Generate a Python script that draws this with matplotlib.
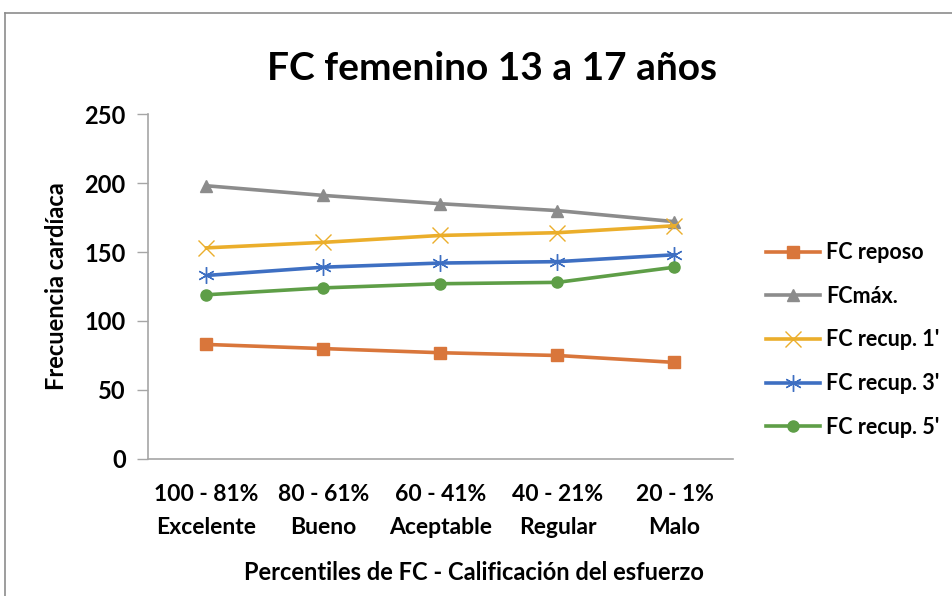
import matplotlib.pyplot as plt
from matplotlib.lines import Line2D

# ---- data ----
categorias = ["100 - 81%\nExcelente", "80 - 61%\nBueno", "60 - 41%\nAceptable",
              "40 - 21%\nRegular", "20 - 1%\nMalo"]
fc_reposo = [83, 80, 77, 75, 70]
fc_max = [198, 191, 185, 180, 172]
fc_recup1 = [153, 157, 162, 164, 169]
fc_recup3 = [133, 139, 142, 143, 148]
fc_recup5 = [119, 124, 127, 128, 139]
y_ticks = [0, 50, 100, 150, 200, 250]

series = [
    ("FC reposo", fc_reposo, "#D9763B", "s", 8),
    ("FCmáx.", fc_max, "#8C8C8C", "^", 9),
    ("FC recup. 1'", fc_recup1, "#EBAE2B", "x", 11),
    ("FC recup. 3'", fc_recup3, "#3E6FC2", (6, 2, 0), 12),
    ("FC recup. 5'", fc_recup5, "#5E9E47", "o", 8),
]

plt.rcParams['font.family'] = ['Lato', 'DejaVu Sans']

fig = plt.figure(figsize=(9.53, 5.96), dpi=100)
ax = fig.add_axes([0.1553, 0.2299, 0.6138, 0.5788])

x = [i + 0.5 for i in range(len(categorias))]
for name, vals, col, mk, ms in series:
    ax.plot(x, vals, color=col, lw=2.6, marker=mk, markersize=ms,
            markeredgewidth=1.0, markerfacecolor=col, markeredgecolor=col,
            label=name)

ax.set_xlim(0, 5)
ax.set_ylim(0, 250)
ax.set_yticks(y_ticks)
ax.set_yticklabels([str(v) for v in y_ticks], fontsize=17, fontweight='bold')
ax.set_xticks(x)
ax.set_xticklabels(categorias, fontsize=16.5, fontweight='bold', linespacing=1.7)
ax.tick_params(axis='x', length=0, pad=18)
ax.tick_params(axis='y', length=8, width=1, color='#A6A6A6', pad=8)

for s in ['top', 'right']:
    ax.spines[s].set_visible(False)
for s in ['left', 'bottom']:
    ax.spines[s].set_color('#A6A6A6')
    ax.spines[s].set_linewidth(1.2)

ax.set_ylabel("Frecuencia cardíaca", fontsize=17, fontweight='bold', labelpad=12)
ax.set_xlabel("Percentiles de FC - Calificación del esfuerzo", fontsize=17,
              fontweight='bold')
ax.xaxis.set_label_coords(0.557, -0.295)

fig.text(0.516, 0.885, "FC femenino 13 a 17 años", ha='center', va='center',
         fontsize=28, fontweight='bold')

leg = fig.legend(loc='center left', bbox_to_anchor=(766 / 953, 1 - 340 / 596),
                 bbox_transform=fig.transFigure, frameon=False,
                 fontsize=15.5, handlelength=2.5, labelspacing=1.05,
                 handletextpad=0.3, borderpad=0, borderaxespad=0)
for t in leg.get_texts():
    t.set_fontweight('bold')

# marco del grafico (solo visible arriba e izquierda)
fig.add_artist(Line2D([5 / 953, 1.0], [1 - 13 / 596, 1 - 13 / 596],
                      transform=fig.transFigure, color='#8C8C8C', lw=1.2))
fig.add_artist(Line2D([5 / 953, 5 / 953], [0, 1 - 13 / 596],
                      transform=fig.transFigure, color='#8C8C8C', lw=1.2))

plt.savefig("out.png", dpi=100)
